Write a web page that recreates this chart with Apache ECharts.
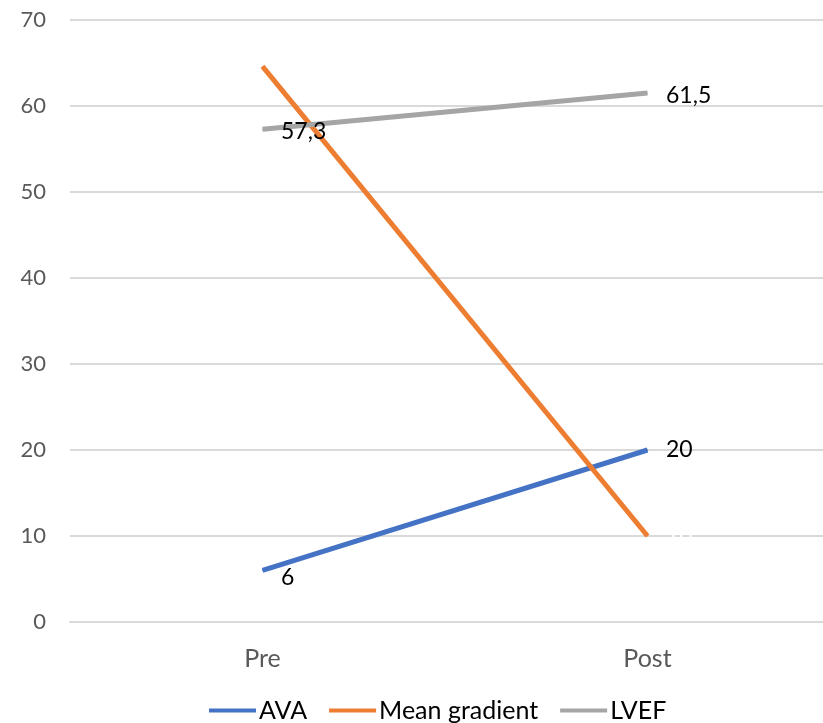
<!DOCTYPE html>
<html>
<head>
<meta charset="utf-8">
<script src="https://cdn.jsdelivr.net/npm/echarts@6/dist/echarts.min.js"></script>
<style>
  html, body { margin: 0; padding: 0; background: #fff; }
  #chart { width: 823px; height: 723px; }
</style>
</head>
<body>
<div id="chart"></div>
<script>
// Categories and series values
const categories = ['Pre', 'Post'];
const avaValues = [6, 20];
const gradientValues = [64.6, 10];
const lvefValues = [57.3, 61.5];
const yTicks = { min: 0, max: 70, interval: 10 };

const FONT = 'Lato, "Open Sans", sans-serif';
const fmt = p => String(p.value).replace('.', ',');

// Attach per-point label offsets
function withOffsets(values, offsets) {
  return values.map((v, i) => ({ value: v, label: { offset: offsets[i] } }));
}

function lineSeries(name, values, color, labelColor, offsets) {
  return {
    name, type: 'line',
    symbol: 'circle', symbolSize: 1, showSymbol: true,
    data: withOffsets(values, offsets),
    lineStyle: { color, width: 5 },
    itemStyle: { color },
    label: { show: true, position: 'right', distance: 18, formatter: fmt,
      color: labelColor, fontFamily: FONT, fontSize: 23 }
  };
}

const chart = echarts.init(document.getElementById('chart'));
chart.setOption({
  animation: false,
  grid: { left: 70, width: 770, top: 20, bottom: 101, outerBoundsMode: 'none', containLabel: false },
  xAxis: {
    type: 'category',
    data: categories,
    boundaryGap: true,
    axisLine: { show: true, lineStyle: { color: '#d9d9d9', width: 2 } },
    axisTick: { show: false },
    axisLabel: { color: '#595959', fontFamily: FONT, fontSize: 25, margin: 24 }
  },
  yAxis: {
    type: 'value',
    min: yTicks.min,
    max: yTicks.max,
    interval: yTicks.interval,
    axisLine: { show: false },
    axisTick: { show: false },
    splitLine: { lineStyle: { color: '#d9d9d9', width: 2 } },
    axisLabel: { color: '#595959', fontFamily: FONT, fontSize: 22, margin: 24 }
  },
  legend: {
    bottom: -5,
    left: 204,
    itemWidth: 47,
    itemHeight: 4,
    itemGap: 22,
    icon: 'rect',
    textStyle: { color: '#000', fontFamily: FONT, fontSize: 25, padding: [0, 0, 0, -2] },
    data: ['AVA', 'Mean gradient', 'LVEF']
  },
  series: [
    lineSeries('AVA', avaValues, '#4472C4', '#000', [[0, 7], [0, 0]]),
    lineSeries('Mean gradient', gradientValues, '#ED7D31', '#fff', [[0, 0], [0, 0]]),
    lineSeries('LVEF', lvefValues, '#A5A5A5', '#000', [[0, 2], [0, 2]])
  ]
});
</script>
</body>
</html>
